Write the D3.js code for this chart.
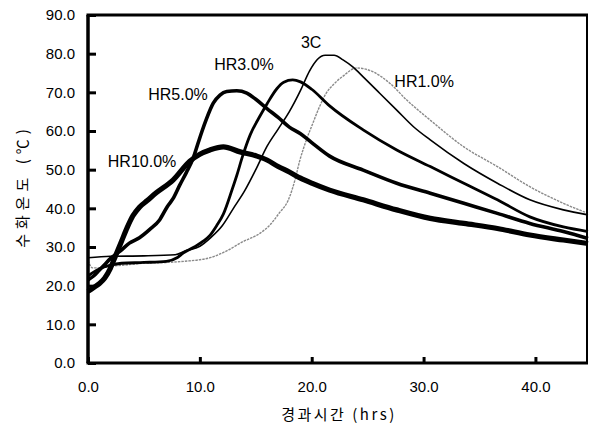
<!DOCTYPE html>
<html>
<head>
<meta charset="utf-8">
<script src="https://cdn.jsdelivr.net/npm/d3@7"></script>
<style>
  body { margin: 0; background: #fff; }
  text { font-family: Arial, "Liberation Sans", sans-serif; fill: #000; }
  .kr { font-family: "Noto Sans CJK KR", sans-serif; }
</style>
</head>
<body>
<script>
// Gemeten hydratatietemperatuur per mengsel: [tijd (hrs), temperatuur (C)]
var hr10 = [[0,18.5],[0.5,19.5],[1,20.5],[1.5,22],[2,24.5],[2.5,28],[3,31.5],[3.5,35],[4,38],[4.6,40.3],
  [5.3,42],[6.1,44],[7.6,47.3],[9.1,52.2],[10,54],[10.9,55.1],[12.1,55.9],[13.6,54.6],[15.1,53.5],[16,52.5],
  [17,50.8],[18,49.4],[19,47.8],[20,46.5],[21.6,44.7],[24.6,42.2],[27.6,39.6],[30.6,37.4],[33.6,36.1],
  [36.6,34.8],[39.5,33.1],[42.5,31.8],[44.7,30.9]];

var hr5 = [[0,21.5],[0.5,22.5],[1,24],[1.5,25.5],[2,27],[2.9,29],[3.7,31],[4.6,32.4],[5.5,34.5],[6.4,37],
  [7.1,40.5],[7.6,42.5],[8.2,46],[8.8,49.3],[9.4,53],[9.8,56.5],[10.2,60],[10.6,63.2],[11.2,67.2],
  [11.8,69.3],[12.4,70.2],[13.3,70.4],[14.2,69.8],[15,68.2],[16,65.8],[17,63.5],[18,61],[19,59.3],
  [20,57],[21.6,53.5],[24.6,49.9],[27.6,46.5],[30.6,43.9],[33.6,41.3],[36.6,38.7],[39.5,36.1],
  [42.5,34],[44.7,32.2]];

var hr3 = [[0,22.5],[0.5,23.5],[1,24.3],[2,25.3],[3,25.8],[5,26],[7,26.3],[8,27.3],[8.5,28.4],[9.5,30],
  [10.3,31.5],[10.9,33],[11.5,35.5],[12.1,38.5],[12.9,45],[13.3,48.5],[13.8,53.3],[14.5,59],[15.4,64],
  [16,67],[16.9,71],[17.5,72.6],[18.3,73.2],[19,72.7],[20,70.8],[21.6,66.5],[24.6,60.3],[27.6,55.1],
  [30.6,50.8],[33.6,46.5],[36.6,42.2],[39.5,37.8],[42.5,35.2],[44.7,34]];

var c3 = [[0,27.2],[2,27.6],[5,27.7],[7.8,28],[8.7,29],[10,30.2],[11,32.5],[12,35.5],[13,40],[14,44.5],
  [15,50],[16,56],[17,60.5],[18,65],[19,70.5],[19.8,75.5],[20.5,78.5],[21.2,79.6],[22,79.6],[22.8,78.4],
  [23.7,76.5],[24.6,74],[26.1,69.7],[27.6,65.4],[29.1,61.1],[30.6,57.7],[33.6,51.6],[36.6,46.5],
  [39.5,42.2],[42.5,39.6],[44.7,38.3]];

var hr1 = [[0,26.5],[0.4,24.6],[1,24.6],[2,25],[3.5,25.4],[5,25.8],[7,26],[9,26.4],[10,26.7],[11,27.3],
  [12.4,29],[13.8,31.3],[15.4,33.6],[16.3,35.8],[17.1,38.8],[17.9,42.1],[18.5,47.3],[18.9,52],[19.5,57.5],
  [20.1,62],[20.7,66.3],[21.3,69.8],[22,72.2],[22.8,74.2],[24,76.3],[25.5,75.3],[27,72.3],[28.5,68],
  [30.6,62.8],[33.6,55.9],[36.6,50.8],[39.5,45.6],[42.5,41.3],[44.7,38.7]];

// Labels bij de lijnen.
var labelText = ["HR10.0%", "HR5.0%", "HR3.0%", "3C", "HR1.0%"];
var labelHrs  = [4.83, 8.05, 13.95, 19.95, 30.05];
var labelTemp = [50.7, 68, 75.8, 81.5, 71.4];

// Tick waarden.
var xTicks = [0, 10, 20, 30, 40];
var yTicks = [0, 10, 20, 30, 40, 50, 60, 70, 80, 90];

// De verhoudingen van de grafiek.
var margin = {top: 15, right: 2, bottom: 69, left: 88},
    width = 590 - margin.left - margin.right,
    height = 432 - margin.top - margin.bottom;

var x = d3.scaleLinear().domain([0, 44.7]).range([0, width]);
var y = d3.scaleLinear().domain([0, 90]).range([height, 0]);

var svg = d3.select("body").append("svg")
    .attr("width", 590)
    .attr("height", 432)
  .append("g")
    .attr("transform", "translate(" + margin.left + "," + margin.top + ")");

var lijn = d3.line()
    .x(function(d) { return x(d[0]); })
    .y(function(d) { return y(d[1]); })
    .curve(d3.curveMonotoneX);

// Lijnen, dunste eerst.
var series = [
  {data: hr1,  stroke: "#8a8a8a", width: 1.4, dash: "2.5,1"},
  {data: c3,   stroke: "#000", width: 1.6, dash: null},
  {data: hr3,  stroke: "#000", width: 2.8, dash: null},
  {data: hr5,  stroke: "#000", width: 3.6, dash: null},
  {data: hr10, stroke: "#000", width: 5.2, dash: null}
];

series.forEach(function(s) {
  svg.append("path")
      .datum(s.data)
      .attr("fill", "none")
      .attr("stroke", s.stroke)
      .attr("stroke-width", s.width)
      .attr("stroke-linejoin", "round")
      .attr("stroke-dasharray", s.dash)
      .attr("d", lijn);
});

// Y as met ticks naar binnen.
var yAxis = svg.append("g")
    .call(d3.axisLeft(y).tickValues(yTicks).tickSize(-8).tickPadding(13)
      .tickFormat(d3.format(".1f")));
yAxis.select(".domain").remove();
yAxis.selectAll("line").attr("stroke-width", 3);
yAxis.selectAll("text").attr("font-size", "15px");

// X as met ticks naar binnen.
var xAxis = svg.append("g")
    .attr("transform", "translate(0," + height + ")")
    .call(d3.axisBottom(x).tickValues(xTicks).tickSize(-6).tickPadding(18)
      .tickFormat(d3.format(".1f")));
xAxis.select(".domain").remove();
xAxis.selectAll("line").attr("stroke-width", 3);
xAxis.selectAll("text").attr("font-size", "15px");

// Kader.
svg.append("line").attr("x1", -1.5).attr("x2", width).attr("y1", 0).attr("y2", 0)
    .attr("stroke", "#000").attr("stroke-width", 3);
svg.append("line").attr("x1", 0).attr("x2", 0).attr("y1", 0).attr("y2", height)
    .attr("stroke", "#000").attr("stroke-width", 3.5);
svg.append("line").attr("x1", -1.5).attr("x2", width).attr("y1", height).attr("y2", height)
    .attr("stroke", "#000").attr("stroke-width", 3);
svg.append("line").attr("x1", width - 1).attr("x2", width - 1).attr("y1", 0).attr("y2", height)
    .attr("stroke", "#000").attr("stroke-width", 2);

// Lijn labels.
labelText.forEach(function(t, i) {
  svg.append("text")
      .attr("x", x(labelHrs[i]))
      .attr("y", y(labelTemp[i]))
      .attr("text-anchor", "middle")
      .attr("font-size", "16px")
      .text(t);
});

// As titels.
svg.append("text")
    .attr("class", "kr")
    .attr("x", 339 - margin.left)
    .attr("y", 420 - margin.top)
    .attr("text-anchor", "middle")
    .attr("font-size", "15px")
    .attr("letter-spacing", "2.5px")
    .text("경과시간 (hrs)");

svg.append("text")
    .attr("class", "kr")
    .attr("transform", "translate(" + (28 - margin.left) + "," + (186 - margin.top) + ") rotate(-90)")
    .attr("text-anchor", "middle")
    .attr("font-size", "15px")
    .attr("letter-spacing", "5px")
    .text("수화온도 (℃)");
</script>
</body>
</html>
